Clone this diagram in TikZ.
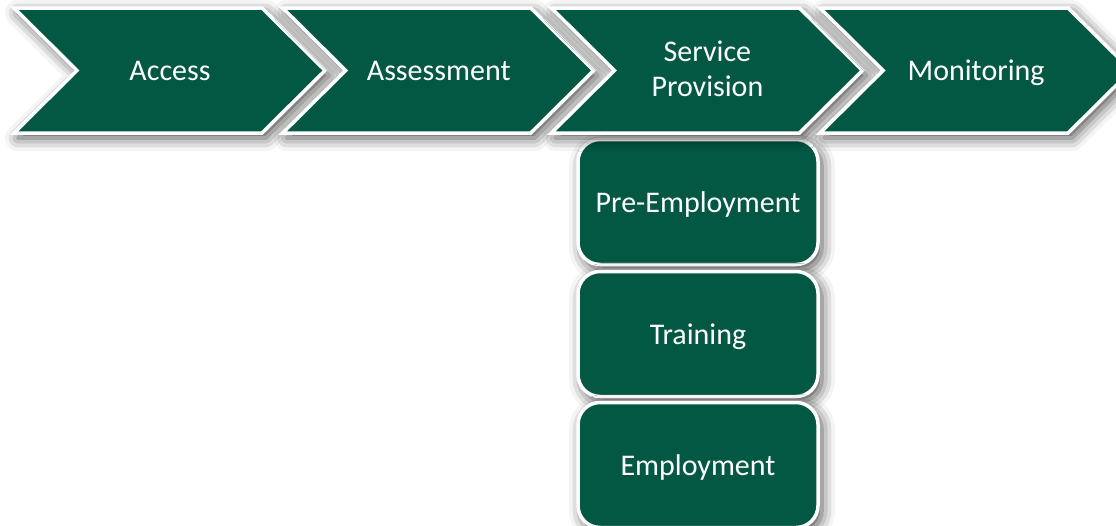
\documentclass[tikz,border=0pt]{standalone}
\usepackage{fontspec}
\setmainfont{Carlito}
\usetikzlibrary{shadows.blur}

\definecolor{stagegreen}{RGB}{3,88,67}

\tikzset{
  stage/.style={fill=stagegreen, draw=white, line width=3.5pt, line join=miter,
    blur shadow={shadow xshift=4pt, shadow yshift=-5pt, shadow blur radius=13pt, shadow opacity=70}},
  stagetext/.style={text=white, font=\fontsize{30}{35}\selectfont, align=center, execute at begin node=\strut},
  substage/.style={stage, rounded corners=22pt, minimum width=240pt, minimum height=125pt, inner sep=0pt}
}

\begin{document}
\begin{tikzpicture}[x=1pt, y=-1pt]
    \useasboundingbox (0,0) rectangle (1116,525);

    % steps under service provision, drawn first so the chevron shadows fall on them
    \foreach \y / \name / \txt in {202/preemp/Pre-Employment, 334/training/Training, 465/employ/Employment}
    {
        \node[substage] (\name) at (698,\y) {};
        \node[stagetext] (\name-label) at ([yshift=-3pt]\name.center) {\txt};
    }

    % the four stages, one chevron each
    \foreach \i / \name / \txt in {0/access/Access, 1/assess/Assessment, 2/service/{Service\\Provision}, 3/monitor/Monitoring}
    {
        \pgfmathsetmacro{\x}{14+268.7*\i}
        \filldraw[stage] (\x,8) -- ++(248,0) -- ++(63,62.5) -- ++(-63,62.5) -- ++(-248,0) -- ++(63,-62.5) -- cycle;
        \node[stagetext] (\name) at (\x+156,73.5) {\txt};
    }

\end{tikzpicture}
\end{document}
